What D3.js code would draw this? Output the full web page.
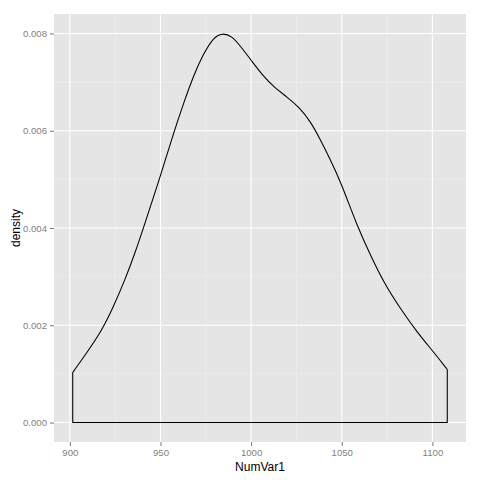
<!DOCTYPE html>
<html>
<head>
<meta charset="utf-8">
<script src="https://cdn.jsdelivr.net/npm/d3@7"></script>
<style>
  body { margin: 0; background: #fff; }
  svg text { font-family: "Liberation Sans", Arial, sans-serif; }
</style>
</head>
<body>
<div id="chart"></div>
<script>
// density curve of NumVar1
const xVals = [901.6, 908.3, 917.5, 923.9, 930.4, 935.9, 940.6, 949.9, 957.2, 962.8, 968.3, 973.8, 979.3, 983.9,
  989.4, 994.1, 1000.6, 1007.0, 1012.5, 1019.9, 1026.3, 1032.8, 1038.3, 1043.8, 1049.3, 1058.6, 1066.1,
  1073.3, 1082.7, 1091.7, 1100.9, 1108.2];
const densVals = [0.00103, 0.00138, 0.00188, 0.00237, 0.00293, 0.00348, 0.00400, 0.00506, 0.00595, 0.00657, 0.00714, 0.00759, 0.00792, 0.00801,
  0.00795, 0.00774, 0.00742, 0.00711, 0.00690, 0.00669, 0.00649, 0.00619, 0.00581, 0.00540, 0.00496, 0.00403, 0.00342,
  0.00287, 0.00232, 0.00185, 0.00144, 0.00109];
const xTicks = [900, 950, 1000, 1050, 1100];
const yTicks = [0, 0.002, 0.004, 0.006, 0.008];
const xMinor = [925, 975, 1025, 1075];
const yMinor = [0.001, 0.003, 0.005, 0.007];

const width = 480, height = 480;
const margin = {top: 14, right: 14, bottom: 38, left: 54};

const svg = d3.select("#chart").append("svg")
    .attr("width", width)
    .attr("height", height);

const xMin = d3.min(xVals), xMax = d3.max(xVals);
const xPad = (xMax - xMin) * 0.05;
const yMax = 0.0080;
const yPad = yMax * 0.05;

const x = d3.scaleLinear()
    .domain([xMin - xPad, xMax + xPad])
    .range([margin.left, width - margin.right]);

const y = d3.scaleLinear()
    .domain([-yPad, yMax + yPad])
    .range([height - margin.bottom, margin.top]);

// panel
svg.append("rect")
    .attr("x", margin.left)
    .attr("y", margin.top)
    .attr("width", width - margin.left - margin.right)
    .attr("height", height - margin.top - margin.bottom)
    .attr("fill", "#E5E5E5");

// minor grid
svg.selectAll(".minor-x")
    .data(xMinor)
    .join("line")
    .attr("x1", d => x(d)).attr("x2", d => x(d))
    .attr("y1", margin.top).attr("y2", height - margin.bottom)
    .attr("stroke", "#F2F2F2")
    .attr("stroke-width", 0.5);

svg.selectAll(".minor-y")
    .data(yMinor)
    .join("line")
    .attr("y1", d => y(d)).attr("y2", d => y(d))
    .attr("x1", margin.left).attr("x2", width - margin.right)
    .attr("stroke", "#F2F2F2")
    .attr("stroke-width", 0.5);

// major grid
svg.selectAll(".major-x")
    .data(xTicks)
    .join("line")
    .attr("x1", d => x(d)).attr("x2", d => x(d))
    .attr("y1", margin.top).attr("y2", height - margin.bottom)
    .attr("stroke", "#fff")
    .attr("stroke-width", 1.1);

svg.selectAll(".major-y")
    .data(yTicks)
    .join("line")
    .attr("y1", d => y(d)).attr("y2", d => y(d))
    .attr("x1", margin.left).attr("x2", width - margin.right)
    .attr("stroke", "#fff")
    .attr("stroke-width", 1.1);

// density outline, closed down to zero like geom_density
const pts = xVals.map((d, i) => [d, densVals[i]]);
const curve = d3.line()
    .x(d => x(d[0]))
    .y(d => y(d[1]))
    .curve(d3.curveBasis);

const pathD = curve(pts)
    + "L" + x(xMax) + "," + y(0)
    + "L" + x(xMin) + "," + y(0)
    + "Z";

svg.append("path")
    .attr("d", pathD)
    .attr("fill", "none")
    .attr("stroke", "#000")
    .attr("stroke-width", 1.07)
    .attr("stroke-linejoin", "round");

// axes
const xAxis = svg.append("g")
    .attr("transform", `translate(0,${height - margin.bottom})`)
    .call(d3.axisBottom(x).tickValues(xTicks).tickSize(4).tickPadding(3).tickFormat(d3.format("d")));

const yAxis = svg.append("g")
    .attr("transform", `translate(${margin.left},0)`)
    .call(d3.axisLeft(y).tickValues(yTicks).tickSize(4).tickPadding(3).tickFormat(d3.format(".3f")));

[xAxis, yAxis].forEach(g => {
    g.select(".domain").remove();
    g.selectAll(".tick line").attr("stroke", "#7F7F7F").attr("stroke-width", 1.07);
    g.selectAll(".tick text")
        .attr("fill", "#7F7F7F")
        .style("font-size", "9.6px")
        .style("font-family", "'Liberation Sans', Arial, sans-serif");
});

// titles
svg.append("text")
    .attr("x", (margin.left + width - margin.right) / 2)
    .attr("y", 471)
    .attr("text-anchor", "middle")
    .style("font-size", "12px")
    .text("NumVar1");

svg.append("text")
    .attr("transform", `translate(20,${(margin.top + height - margin.bottom) / 2}) rotate(-90)`)
    .attr("text-anchor", "middle")
    .style("font-size", "12px")
    .text("density");
</script>
</body>
</html>
